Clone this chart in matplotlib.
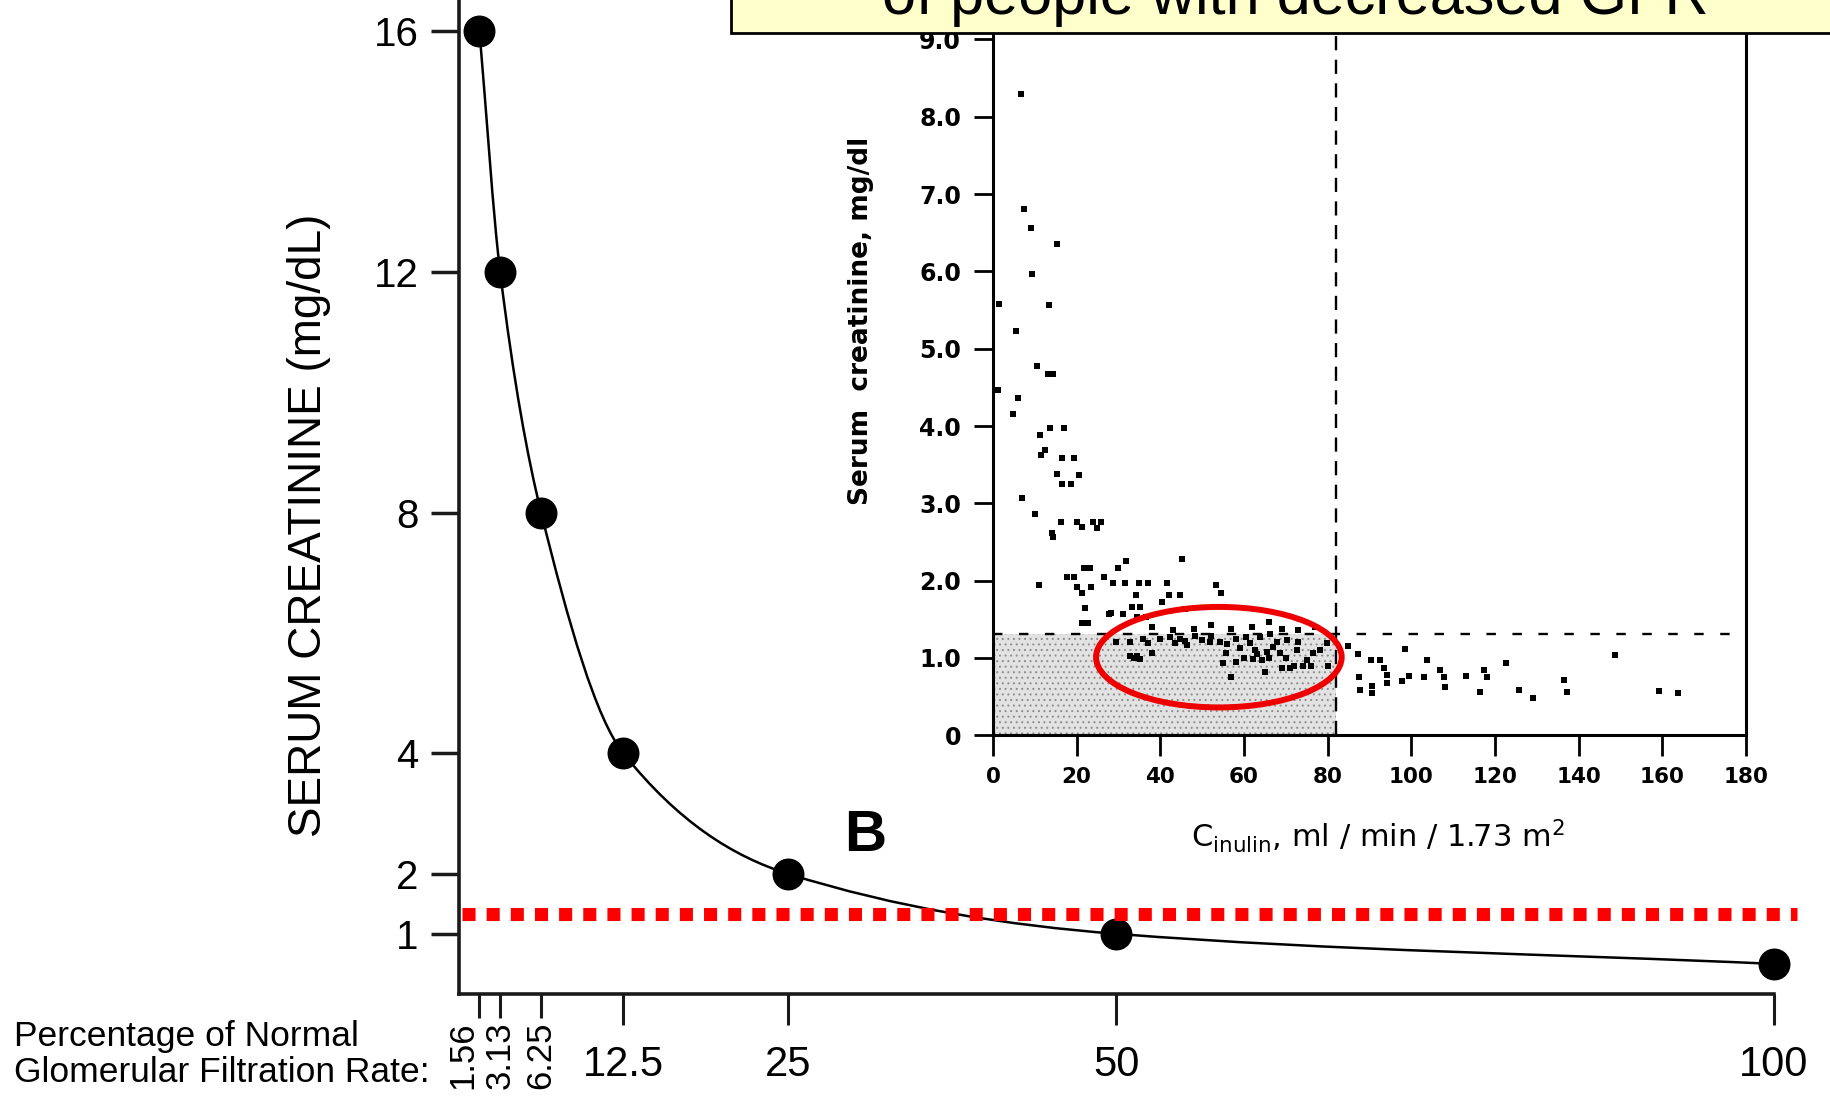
import numpy as np
import matplotlib
matplotlib.use("Agg")
import matplotlib.pyplot as plt
from matplotlib.path import Path
from matplotlib.patches import PathPatch, Rectangle, Ellipse

plt.rcParams["font.family"] = ["Liberation Sans", "DejaVu Sans"]
plt.rcParams["hatch.linewidth"] = 0.7

# main curve: % of normal GFR vs serum creatinine
gfr_pct = [1.56, 3.13, 6.25, 12.5, 25, 50, 100]
serum_cr = [16, 12, 8, 4, 2, 1, 0.5]
gfr_major = [12.5, 25, 50, 100]
gfr_major_labels = ["12.5", "25", "50", "100"]
gfr_minor = [1.56, 3.13, 6.25]
gfr_minor_labels = ["1.56", "3.13", "6.25"]
cr_ticks = [1, 2, 4, 8, 12, 16]
cr_cutoff_main = 1.33

# inset scatter: inulin clearance vs serum creatinine
inulin_x = [6.6, 7.4, 9.0, 15.3, 9.4, 1.4, 13.4, 5.5, 10.5, 13.2, 14.4, 1.2,
            6.0, 4.8, 11.2, 13.7, 17.0, 11.6, 12.4, 16.4, 19.3, 15.4, 20.6,
            16.6, 18.6, 6.9, 10.1, 16.2, 20.0, 21.2, 23.8, 25.9, 24.9, 14.0,
            14.3, 31.9, 21.8, 23.2, 29.8, 45.2, 17.7, 19.3, 26.5, 10.9, 28.7,
            31.5, 34.8, 37.1, 41.5, 53.2, 20.0, 23.5, 21.2, 54.6, 34.3, 42.1,
            44.7, 40.3, 22.0, 33.3, 35.1, 27.8, 31.1, 34.4, 36.6, 21.3, 22.7,
            45.9, 28.3,
            38, 43, 48, 52, 57, 62, 66, 69, 73, 77,
            29.5, 32.7, 32.7, 35.9, 37.1, 37.9, 35.1, 42.3, 43.5, 44.7, 46.3,
            48.3, 49.9, 51.9, 54.2, 55.8, 55.0, 57.0, 58.2, 59.0, 60.6, 61.4,
            62.6, 63.8, 64.2, 65.0, 66.2, 67.0, 68.6, 70.2, 69.0, 71.0, 72.6,
            75.0, 76.6, 78.2, 80.2, 79.8, 62.2, 65.4, 67.8,
            33.8, 34.5, 58, 60, 63, 66, 70, 73, 72, 74, 76, 40, 46, 52, 56,
            84.8, 87.3, 90.3, 92.6, 93.5, 94.2, 94.2, 87.5, 87.8, 90.6, 90.6,
            97.7, 99.5, 98.4, 103.1, 103.7, 106.8, 107.9, 108.1, 113.0, 116.4,
            117.4, 118.0, 122.6, 125.8, 129.1, 136.4, 137.3, 148.6, 159.3,
            163.8]
inulin_cr = [8.29, 6.81, 6.56, 6.36, 5.96, 5.58, 5.56, 5.23, 4.78, 4.67, 4.67,
             4.47, 4.36, 4.16, 3.88, 3.98, 3.98, 3.63, 3.69, 3.58, 3.58, 3.38,
             3.36, 3.25, 3.25, 3.07, 2.86, 2.76, 2.76, 2.69, 2.76, 2.76, 2.68,
             2.61, 2.56, 2.26, 2.16, 2.16, 2.16, 2.28, 2.05, 2.05, 2.05, 1.94,
             1.97, 1.97, 1.97, 1.97, 1.97, 1.95, 1.92, 1.92, 1.84, 1.84, 1.81,
             1.81, 1.81, 1.72, 1.65, 1.66, 1.66, 1.57, 1.57, 1.53, 1.53, 1.45,
             1.45, 1.63, 1.58,
             1.40, 1.36, 1.38, 1.42, 1.37, 1.40, 1.46, 1.38, 1.36, 1.40,
             1.21, 1.21, 1.02, 1.24, 1.19, 1.06, 0.99, 1.27, 1.19, 1.25, 1.17,
             1.28, 1.23, 1.20, 1.21, 1.06, 0.93, 0.76, 1.25, 1.13, 1.27, 1.19,
             1.10, 1.27, 0.97, 0.82, 1.31, 1.14, 1.06, 1.23, 0.87, 0.87, 1.10,
             0.97, 1.06, 1.10, 0.89, 1.19, 0.99, 1.08, 1.21,
             1.00, 1.02, 0.95, 1.00, 1.05, 1.00, 1.00, 1.20, 0.90, 0.90, 0.90,
             1.25, 1.22, 1.28, 1.18,
             1.155, 1.05, 0.97, 0.97, 0.87, 0.78, 0.68, 0.76, 0.58, 0.64, 0.55,
             0.70, 0.77, 1.12, 0.75, 0.97, 0.84, 0.75, 0.62, 0.77, 0.56, 0.85,
             0.75, 0.94, 0.58, 0.48, 0.72, 0.56, 1.04, 0.57, 0.55]
inulin_ticks = [0, 20, 40, 60, 80, 100, 120, 140, 160, 180]
cr_inset_ticks = [0, 1, 2, 3, 4, 5, 6, 7, 8, 9]
cr_inset_labels = ["0", "1.0", "2.0", "3.0", "4.0", "5.0", "6.0", "7.0", "8.0", "9.0"]
inulin_cut = 82
cr_cut = 1.31


def smooth_path(xs, ys):
    # monotone cubic through the points, written as bezier segments
    xs = np.asarray(xs, float)
    ys = np.asarray(ys, float)
    h = np.diff(xs)
    d = np.diff(ys) / h
    m = np.empty_like(xs)
    m[0], m[-1] = d[0], d[-1]
    for i in range(1, len(xs) - 1):
        if d[i - 1] * d[i] <= 0:
            m[i] = 0
        else:
            w1 = 2 * h[i] + h[i - 1]
            w2 = h[i] + 2 * h[i - 1]
            m[i] = (w1 + w2) / (w1 / d[i - 1] + w2 / d[i])
    verts = [(xs[0], ys[0])]
    codes = [Path.MOVETO]
    for i in range(len(h)):
        verts += [(xs[i] + h[i] / 3, ys[i] + m[i] * h[i] / 3),
                  (xs[i + 1] - h[i] / 3, ys[i + 1] - m[i + 1] * h[i] / 3),
                  (xs[i + 1], ys[i + 1])]
        codes += [Path.CURVE4] * 3
    return Path(verts, codes)


fig = plt.figure(figsize=(18.3, 11.1), dpi=100)

# ---- main panel ----
ax = fig.add_axes([0.2508, 0.1045, 0.7186, 0.8955])
ax.set_xlim(0, 100)
ax.set_ylim(0, 16.52)
for s in ["top", "right"]:
    ax.spines[s].set_visible(False)
for s in ["left", "bottom"]:
    ax.spines[s].set_linewidth(2.6)
    ax.spines[s].set_color("#1a1a1a")

ax.add_patch(PathPatch(smooth_path(gfr_pct, serum_cr), fill=False,
                       edgecolor="black", lw=1.8, zorder=3))
ax.plot(gfr_pct, serum_cr, "o", ms=22, color="black", clip_on=False, zorder=4)

ax.axhline(cr_cutoff_main, 0.002, 1.0175, color="#ff0000", lw=9.4,
           linestyle=(0, (1, 0.85)), dash_capstyle="butt", clip_on=False,
           zorder=5)

ax.set_yticks(cr_ticks, labels=[str(v) for v in cr_ticks])
ax.tick_params(axis="y", length=20, width=2.5, pad=9, labelsize=29,
               color="#1a1a1a")

ax.set_xticks(gfr_major, labels=gfr_major_labels)
ax.set_xticks(gfr_minor, labels=gfr_minor_labels, minor=True)
ax.tick_params(axis="x", which="major", length=22, width=2.2, pad=15,
               labelsize=30, color="#1a1a1a")
ax.tick_params(axis="x", which="minor", length=17, width=2.2, pad=3,
               labelsize=25, labelrotation=90, color="#1a1a1a")
ax.get_xticklabels(minor=True)[0].set_horizontalalignment("right")

fig.text(309 / 1830, 1 - 525 / 1110, "SERUM CREATININE (mg/dL)", rotation=90,
         ha="center", va="center", fontsize=33)
fig.text(14 / 1830, 1 - 1046 / 1110, "Percentage of Normal", va="baseline",
         fontsize=25.5)
fig.text(14 / 1830, 1 - 1082 / 1110, "Glomerular Filtration Rate:",
         va="baseline", fontsize=25.5)
fig.text(865 / 1830, 1 - 836 / 1110, "B", ha="center", va="center",
         fontsize=42, fontweight="bold")

# ---- inset scatter ----
ax_in = fig.add_axes([0.5426, 0.3376, 0.4115, 0.6624], facecolor="none",
                     zorder=2)
ax_in.set_xlim(0, 180)
ax_in.set_ylim(0, 9.51)
ax_in.spines["top"].set_visible(False)
for s in ["left", "bottom", "right"]:
    ax_in.spines[s].set_linewidth(2.2)

ax_in.add_patch(Rectangle((0, 0), inulin_cut, cr_cut, facecolor="#e2e2e2",
                          edgecolor="#8c8c8c", hatch="...", lw=0, zorder=1))
ax_in.axvline(inulin_cut, color="black", lw=1.7, dashes=(6, 4), zorder=2)
ax_in.axhline(cr_cut, color="black", lw=1.7, dashes=(4, 7), zorder=2)
ax_in.scatter(inulin_x, inulin_cr, s=13, marker="s", color="black", lw=0,
              zorder=3, clip_on=False)
ax_in.add_patch(Ellipse((54, 1.01), 58.7, 1.30, fill=False,
                        edgecolor="#ee0000", lw=4.3, zorder=5))

ax_in.set_xticks(inulin_ticks, labels=[str(v) for v in inulin_ticks])
ax_in.set_yticks(cr_inset_ticks, labels=cr_inset_labels)
ax_in.tick_params(axis="y", length=14, width=2, pad=9, labelsize=17)
ax_in.tick_params(axis="x", length=15, width=2, pad=8, labelsize=15.5)
for lbl in ax_in.get_xticklabels() + ax_in.get_yticklabels():
    lbl.set_family("DejaVu Sans")
    lbl.set_fontweight("bold")

ax_in.text(-0.1753, 0.5634, "Serum  creatinine, mg/dl", rotation=90,
           transform=ax_in.transAxes, ha="center", va="center", fontsize=19,
           family="DejaVu Sans", fontweight="bold")
ax_in.text(0.511, -0.137,
           r"C$_{\mathregular{inulin}}$, ml / min / 1.73 m$^{\mathregular{2}}$",
           transform=ax_in.transAxes, ha="center", va="center", fontsize=22,
           family="DejaVu Sans")

# ---- caption box along the top ----
fig.add_artist(Rectangle((731 / 1830, 1 - 32.7 / 1110), 0.7, 0.2,
                         transform=fig.transFigure, facecolor="#ffffcc",
                         edgecolor="black", lw=2, zorder=10))
fig.text(0.7077, 1 - 14 / 1110, "of people with decreased GFR", ha="center",
         va="baseline", fontsize=44, zorder=11)

fig.savefig("out.png", dpi=100)
